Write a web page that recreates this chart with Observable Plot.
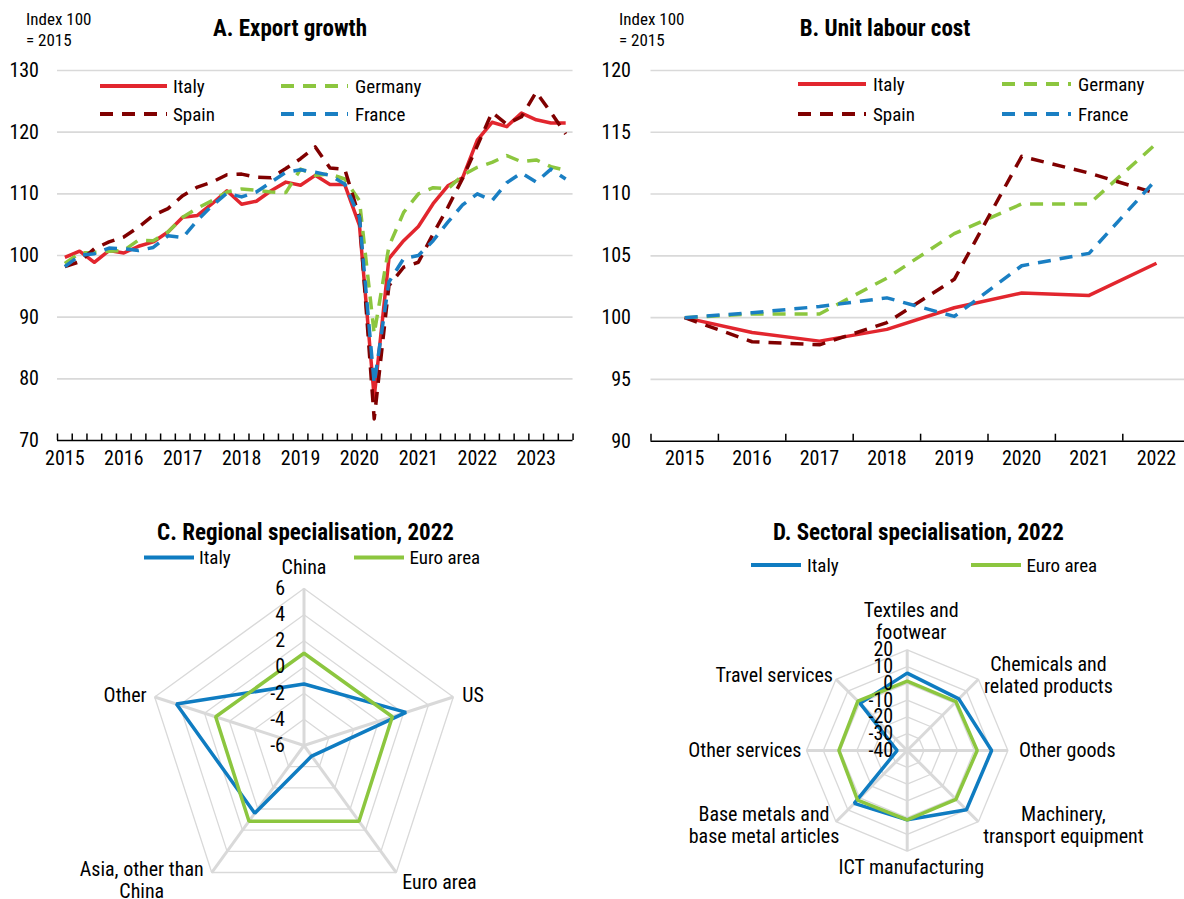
<!DOCTYPE html>
<html>
<head>
<meta charset="utf-8">
<script src="https://cdn.jsdelivr.net/npm/d3@7"></script>
<script src="https://cdn.jsdelivr.net/npm/@observablehq/plot@0.6"></script>
<style>
  html, body { margin: 0; padding: 0; background: #fff; }
  #page { position: relative; width: 1184px; height: 899px; overflow: hidden; background: #fff; }
  .panel { position: absolute; }
  #overlay { position: absolute; left: 0; top: 0; pointer-events: none; }
</style>
</head>
<body>
<div id="page"></div>
<script>
// ---------------- DATA ----------------
// Panel A: export growth, quarterly 2015Q1 - 2023Q3, index 2015 = 100
const quarterLabels = [
  "2015Q1","2015Q2","2015Q3","2015Q4","2016Q1","2016Q2","2016Q3","2016Q4",
  "2017Q1","2017Q2","2017Q3","2017Q4","2018Q1","2018Q2","2018Q3","2018Q4",
  "2019Q1","2019Q2","2019Q3","2019Q4","2020Q1","2020Q2","2020Q3","2020Q4",
  "2021Q1","2021Q2","2021Q3","2021Q4","2022Q1","2022Q2","2022Q3","2022Q4",
  "2023Q1","2023Q2","2023Q3"
];
const exportItaly = [99.7,100.7,98.9,100.8,100.4,101.5,102.2,103.8,106.2,106.5,108.4,110.5,108.3,108.8,110.5,111.9,111.4,113.0,111.5,111.5,104.9,77.0,99.5,102.4,104.7,108.4,111.3,112.6,118.7,121.6,120.9,123.1,122.0,121.5,121.5];
const exportGermany = [98.7,100.4,100.5,100.7,100.8,102.5,102.4,103.8,106.2,107.7,108.9,110.3,110.8,110.6,110.3,110.2,114.0,113.0,113.2,112.4,108.9,87.3,101.5,107.0,110.0,111.0,110.8,113.0,114.3,115.1,116.2,115.2,115.5,114.4,113.8];
const exportSpain = [98.2,99.0,101.1,102.2,103.0,104.6,106.5,107.6,109.7,111.1,111.9,113.1,113.2,112.7,112.6,114.1,115.7,117.6,114.2,114.0,106.2,73.5,95.1,98.1,98.9,103.5,107.8,112.5,117.8,123.2,121.3,122.5,126.5,123.2,119.7];
const exportFrance = [98.2,100.0,100.3,101.2,101.1,100.8,101.3,103.2,102.9,105.7,108.1,110.1,109.5,110.3,111.9,113.5,113.9,113.5,113.0,111.6,106.2,79.2,95.7,99.5,100.0,102.4,105.4,108.2,110.0,108.9,111.8,113.4,111.9,114.0,112.4];
const yTicksA = [70, 80, 90, 100, 110, 120, 130];

// Panel B: unit labour cost, annual, index 2015 = 100
const yearsB = ["2015","2016","2017","2018","2019","2020","2021","2022"];
const ulcItaly = [100, 98.8, 98.1, 99.05, 100.8, 102.0, 101.8, 104.4];
const ulcGermany = [100, 100.3, 100.3, 103.2, 106.8, 109.2, 109.2, 114.1];
const ulcSpain = [100, 98.05, 97.8, 99.6, 103.1, 113.05, 111.7, 110.05];
const ulcFrance = [100, 100.4, 100.9, 101.6, 100.1, 104.2, 105.2, 111.2];
const yTicksB = [90, 95, 100, 105, 110, 115, 120];

// Panel C: regional specialisation, 2022
const regions = ["China", "US", "Euro area", "Asia, other than\nChina", "Other"];
const regItaly = [-1.3, 2.2, -5.0, 0.4, 4.25];
const regEuro = [1.05, 1.1, 1.15, 1.15, 1.1];
const regTicks = [6, 4, 2, 0, -2, -4, -6];

// Panel D: sectoral specialisation, 2022
const sectors = ["Textiles and\nfootwear", "Chemicals and\nrelated products", "Other goods",
  "Machinery,\ntransport equipment", "ICT manufacturing", "Base metals and\nbase metal articles",
  "Other services", "Travel services"];
const secItaly = [6.1, 3.5, 10.3, 9.9, 1.3, 4.6, -34, -0.3];
const secEuro = [1.3, 1.1, 1.7, 1.1, 1.3, 1.8, 0.7, 1.6];
const secTicks = [20, 10, 0, -10, -20, -30, -40];

// ---------------- STYLE ----------------
const FONT = '"Liberation Sans Narrow", "Arial Narrow", "Roboto Condensed", "Liberation Sans", sans-serif';
const RED = "#e2262e", GREEN = "#8cc63f", DARKRED = "#800000", BLUE = "#1a7fc3";
const RBLUE = "#0f7cc1", RGREEN = "#8cc63f";
const GRID = "#d9d9d9";
const DASH = "13,9";

const page = document.getElementById("page");
function place(svg, left, top) {
  const d = document.createElement("div");
  d.className = "panel";
  d.style.left = left + "px"; d.style.top = top + "px";
  d.appendChild(svg);
  page.appendChild(d);
}
const baseStyle = {fontFamily: FONT, fontSize: "20px", color: "#000", background: "transparent"};

// ---------------- PANEL A ----------------
const seriesA = [
  {name: "Italy", values: exportItaly, color: RED, dash: null},
  {name: "Germany", values: exportGermany, color: GREEN, dash: DASH},
  {name: "Spain", values: exportSpain, color: DARKRED, dash: DASH},
  {name: "France", values: exportFrance, color: BLUE, dash: DASH}
];
const dataA = seriesA.flatMap(s => s.values.map((v, i) => ({series: s.name, q: i + 0.5, v})));
const q1Ticks = quarterLabels.map((q, i) => q.endsWith("Q1") ? i + 0.5 : null).filter(d => d !== null);
const boundsA = d3.range(quarterLabels.length + 1);
const hA = 470, topA = 70, botA = 30;
const unitA = (yTicksA[yTicksA.length - 1] - yTicksA[0]) / (hA - topA - botA);

const plotA = Plot.plot({
  width: 590, height: hA,
  marginLeft: 57, marginRight: 17.45, marginTop: topA, marginBottom: botA,
  style: baseStyle,
  x: {domain: [0, quarterLabels.length], ticks: q1Ticks, tickFormat: d => quarterLabels[Math.floor(d)].slice(0, 4), tickSize: 0, tickPadding: 10, label: null},
  y: {domain: [yTicksA[0], yTicksA[yTicksA.length - 1]], ticks: yTicksA, tickSize: 0, tickPadding: 18.5, label: null},
  marks: [
    Plot.ruleY(yTicksA.slice(1), {stroke: GRID, strokeWidth: 1.6}),
    ...seriesA.map(s => Plot.line(dataA.filter(d => d.series === s.name), {
      x: "q", y: "v", stroke: s.color, strokeWidth: 3.5, strokeDasharray: s.dash || undefined,
      strokeLinecap: "butt", strokeLinejoin: "round"
    })),
    Plot.ruleY([yTicksA[0]], {stroke: "#000", strokeWidth: 1.5}),
    Plot.ruleX(boundsA, {y1: yTicksA[0], y2: yTicksA[0] + 6.5 * unitA, stroke: "#000", strokeWidth: 1.5})
  ]
});
place(plotA, 0, 0);

// ---------------- PANEL B ----------------
const seriesB = [
  {name: "Italy", values: ulcItaly, color: RED, dash: null},
  {name: "Germany", values: ulcGermany, color: GREEN, dash: DASH},
  {name: "Spain", values: ulcSpain, color: DARKRED, dash: DASH},
  {name: "France", values: ulcFrance, color: BLUE, dash: DASH}
];
const dataB = seriesB.flatMap(s => s.values.map((v, i) => ({series: s.name, t: i, v})));
const hB = 470, topB = 70, botB = 29.3;
const unitB = (yTicksB[yTicksB.length - 1] - yTicksB[0]) / (hB - topB - botB);
const bandB = 67.4, leftB = 60.5;

const plotB = Plot.plot({
  width: 594, height: hB,
  marginLeft: leftB, marginRight: 0, marginTop: topB, marginBottom: botB,
  style: baseStyle,
  x: {domain: [-0.5, yearsB.length - 0.5], range: [leftB, leftB + bandB * yearsB.length],
      ticks: d3.range(yearsB.length), tickFormat: i => yearsB[i], tickSize: 0, tickPadding: 10, label: null},
  y: {domain: [yTicksB[0], yTicksB[yTicksB.length - 1]], ticks: yTicksB, tickSize: 0, tickPadding: 20, label: null},
  marks: [
    Plot.ruleY(yTicksB.slice(1), {stroke: GRID, strokeWidth: 1.6}),
    ...seriesB.map(s => Plot.line(dataB.filter(d => d.series === s.name), {
      x: "t", y: "v", stroke: s.color, strokeWidth: 3.5, strokeDasharray: s.dash || undefined,
      strokeLinecap: "butt", strokeLinejoin: "round"
    })),
    Plot.ruleY([yTicksB[0]], {stroke: "#000", strokeWidth: 1.5}),
    Plot.ruleX(d3.range(yearsB.length + 1).map(i => i - 0.5), {y1: yTicksB[0], y2: yTicksB[0] + 7 * unitB, stroke: "#000", strokeWidth: 1.5})
  ]
});
place(plotB, 590, 0);

// ---------------- RADAR helper ----------------
function radar(o) {
  const n = o.cats.length;
  const ang = k => 2 * Math.PI * k / n;
  const nr = v => (v - o.min) / (o.max - o.min);
  const pt = (k, v) => ({x: nr(v) * Math.sin(ang(k)), y: nr(v) * Math.cos(ang(k))});
  const rings = o.ticks.filter(t => t > o.min).flatMap(t => o.cats.map((c, k) => ({level: t, ...pt(k, t)})));
  const spokes = o.cats.map((c, k) => ({k, ...pt(k, o.max)}));
  const pts = o.series.flatMap(s => s.values.map((v, k) => ({name: s.name, ...pt(k, v)})));
  const labels = o.cats.map((c, k) => ({text: c, ...pt(k, o.max), ...o.labelPos[k]}));
  return Plot.plot({
    width: o.width, height: o.height, margin: 0,
    style: baseStyle,
    x: {domain: [-1, 1], range: [o.cx - o.R, o.cx + o.R], axis: null},
    y: {domain: [-1, 1], range: [o.cy + o.R, o.cy - o.R], axis: null},
    marks: [
      Plot.line(rings, {x: "x", y: "y", z: "level", curve: "linear-closed", stroke: GRID, strokeWidth: 1.3}),
      Plot.link(spokes, {x1: 0, y1: 0, x2: "x", y2: "y", stroke: GRID, strokeWidth: 3}),
      ...o.series.map(s => Plot.line(pts.filter(p => p.name === s.name), {
        x: "x", y: "y", curve: "linear-closed", stroke: s.color, strokeWidth: 3.5, strokeLinejoin: "miter"
      })),
      Plot.text(o.ticks, {x: 0, y: t => nr(t), text: t => String(t), textAnchor: "end", dx: -o.tickDx, fontSize: 20, lineAnchor: "middle", fill: "#000"}),
      ...labels.map(l => Plot.text([l], {x: "x", y: "y", text: "text", textAnchor: l.anchor, dx: l.dx, dy: l.dy,
        lineAnchor: "middle", lineHeight: 1.1, fontSize: 20, fill: "#000"}))
    ]
  });
}

// ---------------- PANEL C ----------------
const plotC = radar({
  cats: regions, min: regTicks[regTicks.length - 1], max: regTicks[0], ticks: regTicks,
  series: [{name: "Italy", values: regItaly, color: RBLUE}, {name: "Euro area", values: regEuro, color: RGREEN}],
  width: 590, height: 429, cx: 303.5, cy: 275, R: 157, tickDx: 19,
  labelPos: [
    {anchor: "middle", dx: 0, dy: -22},
    {anchor: "start", dx: 9, dy: -2},
    {anchor: "start", dx: 6, dy: 9},
    {anchor: "middle", dx: -70, dy: 7},
    {anchor: "end", dx: -8, dy: -2}
  ]
});
place(plotC, 0, 470);

// ---------------- PANEL D ----------------
const plotD = radar({
  cats: sectors, min: secTicks[secTicks.length - 1], max: secTicks[0], ticks: secTicks,
  series: [{name: "Italy", values: secItaly, color: RBLUE}, {name: "Euro area", values: secEuro, color: RGREEN}],
  width: 594, height: 429, cx: 316.7, cy: 280, R: 100.7, tickDx: 14,
  labelPos: [
    {anchor: "middle", dx: 4, dy: -29},
    {anchor: "middle", dx: 70, dy: -4},
    {anchor: "start", dx: 11, dy: -1},
    {anchor: "middle", dx: 85, dy: 3},
    {anchor: "middle", dx: 4, dy: 16},
    {anchor: "middle", dx: -72, dy: 3},
    {anchor: "end", dx: -5, dy: -1},
    {anchor: "end", dx: -3, dy: -4}
  ]
});
place(plotD, 590, 470);

// ---------------- Titles, units, legends ----------------
const ov = d3.select(page).append("svg").attr("id", "overlay")
  .attr("width", 1184).attr("height", 899).style("font-family", FONT);

const titles = [
  {text: "A. Export growth", x: 290, y: 28},
  {text: "B. Unit labour cost", x: 885, y: 28},
  {text: "C. Regional specialisation, 2022", x: 305.5, y: 532.5},
  {text: "D. Sectoral specialisation, 2022", x: 918.5, y: 532}
];
ov.selectAll("text.title").data(titles).join("text").attr("class", "title")
  .attr("x", d => d.x).attr("y", d => d.y).attr("text-anchor", "middle")
  .attr("dominant-baseline", "central").attr("font-weight", "bold").attr("font-size", 23)
  .attr("fill", "#000").text(d => d.text);

const units = [
  {text: "Index 100", x: 26, y: 19}, {text: "= 2015", x: 26, y: 40},
  {text: "Index 100", x: 619, y: 19}, {text: "= 2015", x: 619, y: 40}
];
ov.selectAll("text.unit").data(units).join("text").attr("class", "unit")
  .attr("x", d => d.x).attr("y", d => d.y).attr("dominant-baseline", "central")
  .attr("font-size", 17).attr("fill", "#000").text(d => d.text);

const legendItems = [
  {s: seriesA[0], x1: 100, x2: 167, y: 86, tx: 173, w: 4},
  {s: seriesA[1], x1: 281, x2: 348, y: 86, tx: 355, w: 4},
  {s: seriesA[2], x1: 100, x2: 167, y: 114, tx: 173, w: 4},
  {s: seriesA[3], x1: 281, x2: 348, y: 114, tx: 355, w: 4},
  {s: seriesB[0], x1: 798, x2: 866, y: 84, tx: 873, w: 4},
  {s: seriesB[1], x1: 1002, x2: 1071, y: 84, tx: 1078, w: 4},
  {s: seriesB[2], x1: 798, x2: 866, y: 114, tx: 873, w: 4},
  {s: seriesB[3], x1: 1002, x2: 1071, y: 114, tx: 1078, w: 4},
  {s: {name: "Italy", color: RBLUE}, x1: 144, x2: 194, y: 557.5, tx: 199, w: 4},
  {s: {name: "Euro area", color: RGREEN}, x1: 354, x2: 404, y: 557.5, tx: 409.5, w: 4},
  {s: {name: "Italy", color: RBLUE}, x1: 751, x2: 801, y: 565, tx: 807, w: 4},
  {s: {name: "Euro area", color: RGREEN}, x1: 971, x2: 1021, y: 565, tx: 1026.5, w: 4}
];
const lg = ov.selectAll("g.leg").data(legendItems).join("g").attr("class", "leg");
lg.append("line").attr("x1", d => d.x1).attr("x2", d => d.x2).attr("y1", d => d.y).attr("y2", d => d.y)
  .attr("stroke", d => d.s.color).attr("stroke-width", d => d.w)
  .attr("stroke-dasharray", d => d.s.dash || null).attr("stroke-linecap", "butt");
lg.append("text").attr("x", d => d.tx).attr("y", d => d.y).attr("dominant-baseline", "central")
  .attr("font-size", 19).attr("fill", "#000").text(d => d.s.name);
</script>
</body>
</html>
